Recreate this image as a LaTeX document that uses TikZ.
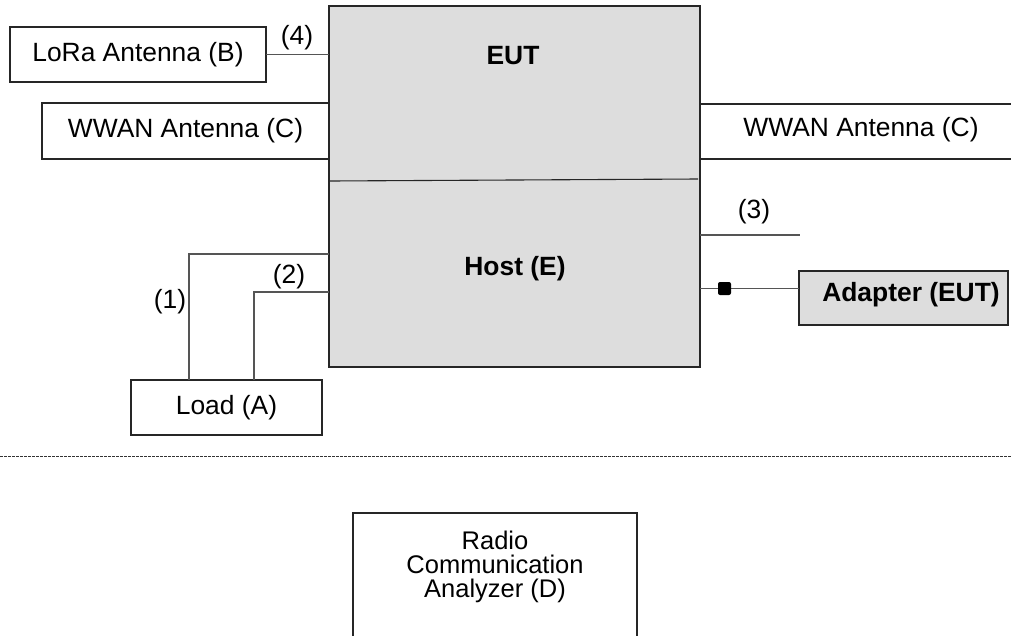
\documentclass[tikz,border=0pt]{standalone}
\usepackage{fontspec}
\setmainfont{Liberation Sans}
\usetikzlibrary{calc}
\definecolor{boxgray}{RGB}{221,221,221}
\definecolor{linegray}{RGB}{85,85,85}
\tikzset{
  every node/.style={inner sep=0pt, outer sep=0pt},
  txt/.style={font=\fontsize{26.4}{30}\selectfont},
  btxt/.style={font=\fontsize{26.4}{30}\selectfont\bfseries},
  box/.style={draw=black!85, line width=1.1pt, fill=white, txt},
  gbox/.style={draw=black!85, line width=1.1pt, fill=boxgray},
  conn/.style={draw=linegray, line width=1.1pt},
  lbl/.style={txt},
}
\begin{document}
\begin{tikzpicture}[x=1pt,y=-1pt]
\useasboundingbox (0,0) rectangle (1011,635);
\clip (0,0) rectangle (1011,635);
% main EUT/Host box
\node[gbox, minimum width=371pt, minimum height=361pt] (eut) at (514.5,186.5) {};
\coordinate (dl) at (330,181);
\coordinate (dr) at (698,179);
\draw[line width=1.1pt, black!85] (dl) -- (dr);
\node[btxt] (euttxt) at (513,56) {EUT};
\node[btxt] (hosttxt) at (515,269) {Host (E)};
% LoRa antenna
\node[box, minimum width=256pt, minimum height=55pt] (lora) at (138,54.5) {LoRa Antenna (B)};
\draw[conn] (lora.east) -- (eut.west |- lora.east);
\node[lbl] (l4) at (297,38) {(4)};
% WWAN left
\node[box, minimum width=287pt, minimum height=56pt] (wwanl) at (185.5,131) {WWAN Antenna (C)};
% WWAN right (open to the right)
\node[box, minimum width=330pt, minimum height=55pt, anchor=west] (wwanr) at (700,131.5) {};
\node[txt] (wwanrtxt) at (861,130) {WWAN Antenna (C)};
% line (3)
\coordinate (c3) at (800,235);
\draw[conn] (eut.east |- c3) -- (c3);
\node[lbl] (l3) at (754,212) {(3)};
% adapter
\node[gbox, minimum width=209pt, minimum height=54pt] (adapter) at (903.5,298) {};
\node[btxt] (adtxt) at (911,295) {Adapter (EUT)};
\coordinate (ac) at (700,288.5);
\draw[conn] (ac) -- (adapter.west |- ac);
\node[fill=black, rounded corners=2pt, minimum width=13pt, minimum height=13pt] (sq) at (724.5,288.5) {};
% load
\node[box, minimum width=191pt, minimum height=55pt] (load) at (226.5,407.5) {Load (A)};
\draw[conn] (eut.west |- 0,254) -| (load.north -| 189,0);
\draw[conn] (eut.west |- 0,292) -| (load.north -| 254,0);
\node[lbl] (l1) at (170,302) {(1)};
\node[lbl] (l2) at (289,277) {(2)};
% dotted separator
\coordinate (sepl) at (0,456);
\coordinate (sepr) at (1011,456);
\draw[black!80, line width=1pt, dash pattern=on 2.5pt off 1.5pt] (sepl) -- (sepr);
% radio communication analyzer
\node[box, minimum width=284pt, minimum height=160pt, anchor=north west] (rca) at (353,513) {};
\node[align=center, font=\fontsize{25.5}{24}\selectfont] (rcatxt) at (495,567) {Radio\\Communication\\Analyzer (D)};
\end{tikzpicture}
\end{document}
